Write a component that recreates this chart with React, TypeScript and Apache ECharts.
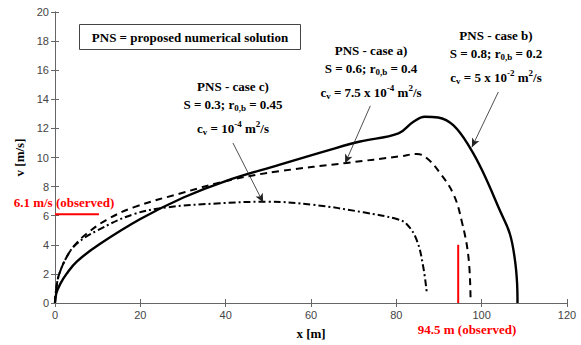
import React, { useEffect, useRef } from "react";
import * as echarts from "echarts";

// Case b) S = 0.8 (solid)
const caseBX = [0, 0.3, 1.2, 2.7, 5.1, 10.5, 20, 30.1, 40, 52.7, 64.4, 71.5, 80.5, 84, 86.7, 89.8, 93.4, 97.3, 100.3, 104.3, 106.6, 107.8, 108.3, 108.4];
const caseBV = [0, 0.65, 1.3, 2.0, 2.85, 4.05, 5.77, 7.25, 8.38, 9.51, 10.53, 11.1, 11.66, 12.46, 12.8, 12.75, 12.2, 10.65, 9.0, 6.34, 4.76, 2.95, 1.36, 0];

// Case a) S = 0.6 (dashed)
const caseAX = [0, 0.3, 1, 3, 5, 7.4, 12, 18.4, 30.1, 41.8, 52.7, 68.4, 80.9, 84.8, 87.1, 90.2, 93.4, 95.3, 96.9, 97.4];
const caseAV = [0, 1.0, 2.0, 3.3, 4.1, 4.76, 5.7, 6.57, 7.59, 8.5, 9.06, 9.63, 10.08, 10.24, 9.97, 8.95, 7.47, 5.66, 3.17, 0.2];

// Case c) S = 0.3 (dash-dot)
const caseCX = [0, 0.3, 1, 3, 5.1, 10, 18.4, 26.2, 37.9, 49.6, 60.5, 72.3, 80.1, 82.4, 84.8, 86.3, 87.1];
const caseCV = [0, 1.0, 2.0, 3.3, 4.08, 5.0, 6.1, 6.57, 6.84, 6.96, 6.75, 6.23, 5.77, 5.43, 4.31, 2.49, 0.8];

// Observed values
const observedSpeed = 6.1;
const observedSpeedSpan = [0, 10.3];
const observedDistance = 94.5;
const observedDistanceSpan = [0, 4];

const xTicks = { min: 0, max: 120, interval: 20 };
const yTicks = { min: 0, max: 20, interval: 2 };

// Arrow endpoints (data coordinates): from text to curve
const arrowC = [[41.7, 11.0], [48.8, 6.9]];
const arrowA = [[73.9, 13.55], [68.0, 9.6]];
const arrowB = [[103.9, 14.5], [97.7, 10.7]];

const zip = (xs: number[], ys: number[]) => xs.map((x, i) => [x, ys[i]]);

const serif = "Liberation Serif";
const sans = "Liberation Sans";

const rich = {
  n: { fontFamily: serif, fontWeight: "bold", fontSize: 13, fill: "#000", lineHeight: 17 },
  sub: { fontFamily: serif, fontWeight: "bold", fontSize: 9, fill: "#000", lineHeight: 9, verticalAlign: "bottom" },
  sup: { fontFamily: serif, fontWeight: "bold", fontSize: 9, fill: "#000", lineHeight: 10, verticalAlign: "top" },
};

const plainText = (x: number, y: number, text: string, fill = "#000") => ({
  type: "text",
  x,
  y,
  style: {
    text,
    fontFamily: serif,
    fontWeight: "bold",
    fontSize: 13,
    fill,
    align: "center",
    verticalAlign: "middle",
  },
});

function labelBlock(cx: number, y: number, l1: string, s: string, r: string, cvMain: string, cvSup: string) {
  return [
    plainText(cx, y, l1),
    {
      type: "text",
      x: cx,
      y: y + 18,
      style: {
        text: `{n|${s}}{sub|0,b}{n|${r}}`,
        rich,
        align: "center",
        verticalAlign: "middle",
      },
    },
    {
      type: "text",
      x: cx,
      y: y + 42,
      style: {
        text: `{n|c}{sub|v}{n|${cvMain}}{sup|${cvSup}}{n| m}{sup|2}{n|/s}`,
        rich,
        align: "center",
        verticalAlign: "middle",
      },
    },
  ];
}

export default function App() {
  const ref = useRef<HTMLDivElement>(null);
  useEffect(() => {
    if (!ref.current) return;
    const chart = echarts.init(ref.current, undefined, { renderer: "svg" });
    const axisColor = "#666";
    const arrowLine = (pts: number[][]) => ({
      type: "line",
      data: [],
      silent: true,
      markLine: {
        silent: true,
        animation: false,
        symbol: ["none", "arrow"],
        symbolSize: [6, 9],
        label: { show: false },
        lineStyle: { color: "#222", width: 0.8, type: "solid" },
        data: [[{ coord: pts[0] }, { coord: pts[1] }]],
      },
    });
    const axisLabel = { color: "#444", fontFamily: sans, fontSize: 11, margin: 6 };
    chart.setOption({
      animation: false,
      grid: { left: 55, right: 14, top: 12, bottom: 38, containLabel: false },
      xAxis: [
        {
          type: "value",
          min: xTicks.min,
          max: xTicks.max,
          interval: xTicks.interval,
          name: "x [m]",
          nameLocation: "middle",
          nameGap: 24,
          nameTextStyle: { fontFamily: serif, fontWeight: "bold", fontSize: 13, color: "#000" },
          axisLine: { lineStyle: { color: axisColor, width: 1 } },
          axisTick: { inside: true, length: 4, lineStyle: { color: axisColor } },
          axisLabel,
          splitLine: { show: false },
        },
        {
          type: "value",
          position: "top",
          min: xTicks.min,
          max: xTicks.max,
          interval: xTicks.interval,
          axisLine: { show: true, lineStyle: { color: axisColor, width: 1 } },
          axisTick: { inside: true, length: 4, lineStyle: { color: axisColor } },
          axisLabel: { show: false },
          splitLine: { show: false },
        },
      ],
      yAxis: [
        {
          type: "value",
          min: yTicks.min,
          max: yTicks.max,
          interval: yTicks.interval,
          name: "v [m/s]",
          nameLocation: "middle",
          nameGap: 25,
          nameTextStyle: { fontFamily: serif, fontWeight: "bold", fontSize: 13, color: "#000" },
          axisLine: { show: true, lineStyle: { color: axisColor, width: 1 } },
          axisTick: { inside: true, length: 4, lineStyle: { color: axisColor } },
          axisLabel,
          splitLine: { show: false },
        },
        {
          type: "value",
          position: "right",
          min: yTicks.min,
          max: yTicks.max,
          interval: yTicks.interval,
          axisLine: { show: true, lineStyle: { color: axisColor, width: 1 } },
          axisTick: { inside: true, length: 4, lineStyle: { color: axisColor } },
          axisLabel: { show: false },
          splitLine: { show: false },
        },
      ],
      series: [
        {
          name: "PNS - case b)",
          type: "line",
          data: zip(caseBX, caseBV),
          showSymbol: false,
          smooth: 0.4,
          lineStyle: { color: "#000", width: 2.4, type: "solid" },
        },
        {
          name: "PNS - case a)",
          type: "line",
          data: zip(caseAX, caseAV),
          showSymbol: false,
          smooth: 0.4,
          lineStyle: { color: "#000", width: 2, type: [7, 5] },
        },
        {
          name: "PNS - case c)",
          type: "line",
          data: zip(caseCX, caseCV),
          showSymbol: false,
          smooth: 0.4,
          lineStyle: { color: "#000", width: 2, type: [7, 3, 2, 3] },
        },
        {
          name: "observed speed",
          type: "line",
          data: observedSpeedSpan.map((x) => [x, observedSpeed]),
          showSymbol: false,
          lineStyle: { color: "#ff0000", width: 2 },
        },
        {
          name: "observed distance",
          type: "line",
          data: observedDistanceSpan.map((v) => [observedDistance, v]),
          showSymbol: false,
          lineStyle: { color: "#ff0000", width: 2 },
        },
        arrowLine(arrowC),
        arrowLine(arrowA),
        arrowLine(arrowB),
      ],
      graphic: [
        {
          type: "rect",
          shape: { x: 79.5, y: 24.5, width: 221, height: 25 },
          style: { fill: "#fff", stroke: "#444", lineWidth: 1 },
        },
        plainText(190, 37, "PNS = proposed numerical solution"),
        ...labelBlock(233, 86, "PNS - case c)", "S = 0.3; r", " = 0.45", " = 10", "-4"),
        ...labelBlock(371, 50, "PNS - case a)", "S = 0.6; r", " = 0.4", " = 7.5 x 10", "-4"),
        ...labelBlock(496, 35, "PNS - case b)", "S = 0.8; r", " = 0.2", " = 5 x 10", "-2"),
        plainText(64, 202, "6.1 m/s (observed)", "#ff0000"),
        plainText(467, 329, "94.5 m (observed)", "#ff0000"),
      ],
    });
    return () => chart.dispose();
  }, []);
  return <div ref={ref} style={{ width: 581, height: 345, position: "absolute", left: 0, top: 0 }} />;
}
